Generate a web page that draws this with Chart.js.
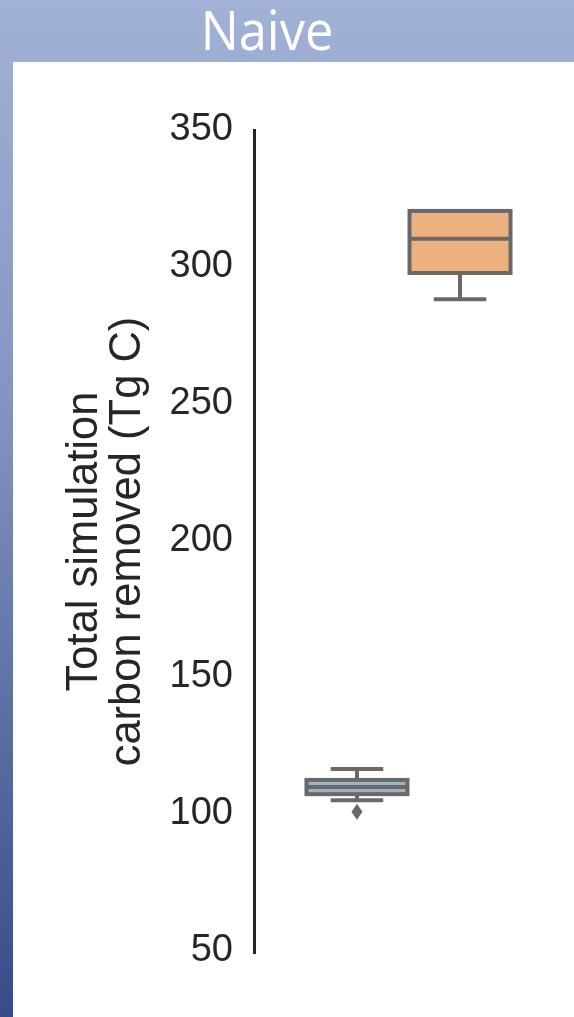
<!DOCTYPE html>
<html>
<head>
<meta charset="utf-8">
<script src="https://cdn.jsdelivr.net/npm/chart.js@4.4.1/dist/chart.umd.min.js"></script>
<style>
  html, body { margin: 0; padding: 0; }
  body {
    width: 574px; height: 1017px; overflow: hidden; position: relative;
    background: linear-gradient(to bottom, #a2b2d6 0%, #8294c2 40%, #374b87 100%);
  }
  #panel { position: absolute; left: 13px; top: 62px; width: 561px; height: 955px; background: #fff; }
  #heading {
    position: absolute; left: 0; top: 1px; width: 534px; text-align: center;
    font-family: "Open Sans", sans-serif; font-size: 55px; line-height: 56px; color: #fff;
    transform: scaleX(0.92);
  }
  #chart { position: absolute; left: 0; top: 0; }
</style>
</head>
<body>
<div id="heading">Naive</div>
<div id="panel"></div>
<canvas id="chart" width="574" height="1017"></canvas>
<script>
// ---- data ----
const categories = ['Naive'];
const seriesNames = ['Series A', 'Series B'];
const whiskerLow = [104.9, 288.1];
const q1 = [107.1, 297.7];
const medians = [109.7, 310.2];
const q3 = [112.3, 320.4];
const whiskerHigh = [116.3, 320.4];
const outliers = [[100.7], []];
const yTicks = [50, 100, 150, 200, 250, 300, 350];

const fills = ['#9db4c3', '#ecb17f'];
const edge = '#696969';

// whiskers, median, outline and fliers drawn on top of the floating bars
const boxPlugin = {
  id: 'boxes',
  afterDatasetsDraw(chart) {
    const ctx = chart.ctx;
    const y = chart.scales.y;
    ctx.save();
    ctx.strokeStyle = edge;
    ctx.fillStyle = edge;
    ctx.lineWidth = 4;
    seriesNames.forEach((name, i) => {
      const bar = chart.getDatasetMeta(i).data[0];
      const { x, width } = bar.getProps(['x', 'width'], true);
      const left = x - width / 2;
      const top = y.getPixelForValue(q3[i]);
      const bot = y.getPixelForValue(q1[i]);
      const cap = width * 0.26;

      ctx.beginPath();
      // whiskers
      if (whiskerHigh[i] > q3[i]) {
        const yh = y.getPixelForValue(whiskerHigh[i]);
        ctx.moveTo(x, top); ctx.lineTo(x, yh);
        ctx.moveTo(x - cap, yh); ctx.lineTo(x + cap, yh);
      }
      if (whiskerLow[i] < q1[i]) {
        const yl = y.getPixelForValue(whiskerLow[i]);
        ctx.moveTo(x, bot); ctx.lineTo(x, yl);
        ctx.moveTo(x - cap, yl); ctx.lineTo(x + cap, yl);
      }
      // median
      const ym = y.getPixelForValue(medians[i]);
      ctx.moveTo(left, ym); ctx.lineTo(left + width, ym);
      ctx.stroke();
      ctx.strokeRect(left, top, width, bot - top);

      // fliers (thin diamond)
      outliers[i].forEach(v => {
        const yo = y.getPixelForValue(v);
        ctx.beginPath();
        ctx.moveTo(x, yo - 8);
        ctx.lineTo(x + 5.5, yo);
        ctx.lineTo(x, yo + 8);
        ctx.lineTo(x - 5.5, yo);
        ctx.closePath();
        ctx.fill();
      });
    });
    ctx.restore();
  }
};

const datasets = seriesNames.map((name, i) => ({
  label: name,
  data: [[q1[i], q3[i]]],
  backgroundColor: fills[i],
  borderWidth: 0,
  categoryPercentage: 0.667,
  barPercentage: 0.98
}));

new Chart(document.getElementById('chart'), {
  type: 'bar',
  data: { labels: categories, datasets: datasets },
  options: {
    responsive: false,
    animation: false,
    layout: { padding: { left: 63, top: 130, right: 11, bottom: 64 } },
    plugins: { legend: { display: false }, tooltip: { enabled: false } },
    scales: {
      x: { display: false },
      y: {
        min: 49,
        max: 350,
        afterBuildTicks: (scale) => { scale.ticks = yTicks.map(v => ({ value: v })); },
        afterFit: (scale) => { scale.width = 191; },
        grid: { display: false, drawTicks: false },
        border: { display: true, color: '#262626', width: 3 },
        ticks: {
          padding: 21,
          color: '#262626',
          font: { family: '"Liberation Sans", Arial, sans-serif', size: 38 }
        },
        title: {
          display: true,
          text: ['Total simulation', 'carbon removed (Tg C)'],
          color: '#262626',
          padding: { top: 0, bottom: 0 },
          font: { family: '"Liberation Sans", Arial, sans-serif', size: 43.5, lineHeight: 0.99 }
        }
      }
    }
  },
  plugins: [boxPlugin]
});
</script>
</body>
</html>
